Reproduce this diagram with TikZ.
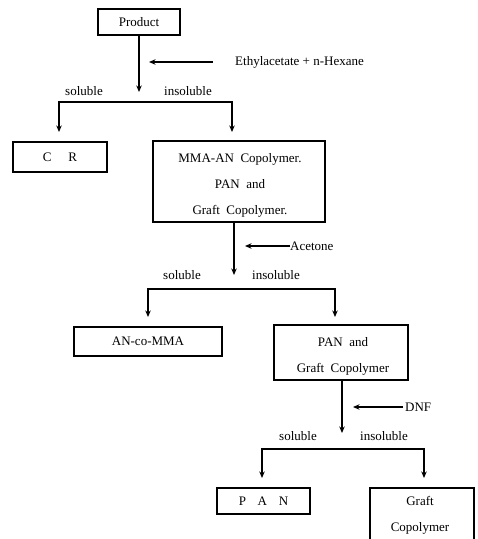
\documentclass[tikz,border=0pt]{standalone}
\usepackage{fontspec}
\setmainfont{Liberation Serif}
\usetikzlibrary{arrows.meta}
\begin{document}
\begin{tikzpicture}[x=1pt,y=-1pt,
  box/.style={draw,line width=1.3pt,inner sep=0pt,align=center,font=\fontsize{13}{26}\selectfont},
  txt/.style={inner sep=0pt,align=center,font=\fontsize{13}{26}\selectfont},
  lbl/.style={inner sep=0pt,font=\fontsize{13}{15}\selectfont},
  arr/.style={line width=1.3pt,-{Stealth[length=6.5pt,width=5.5pt]}},
  barr/.style={line width=1.3pt,line join=miter,{Stealth[length=6.5pt,width=5.5pt]}-{Stealth[length=6.5pt,width=5.5pt]}}]
\useasboundingbox (0,0) rectangle (478,539);
\clip (0,0) rectangle (478,539);

% stage 1
\node[box,minimum width=82pt,minimum height=26pt] (prod) at (139,22) {Product};
\coordinate (e1) at (139,92);
\draw[arr] (prod.south) -- (e1);
\node[lbl,anchor=west] (sol1) at (235,62) {Ethylacetate + n-Hexane};
\coordinate (t1) at (213,62);
\coordinate (h1) at (149,62);
\draw[arr] (t1) -- (h1);
\node[lbl] (s1) at (84,91) {soluble};
\node[lbl] (i1) at (188,91) {insoluble};
\coordinate (b1l) at (59,102);
\coordinate (b1r) at (232,102);
\coordinate (a1l) at (59,132);
\coordinate (a1r) at (232,132);
\draw[barr] (a1l) -- (b1l) -- (b1r) -- (a1r);

\node[box,minimum width=94pt,minimum height=30pt] (cr) at (60,157) {C\hspace{1.3em}R};
\node[box,minimum width=172pt,minimum height=81pt] (mma) at (239,181.5) {};
\node[txt] (mmat) at (240,185.5) {MMA-AN~~Copolymer.\\PAN~~and\\Graft~~Copolymer.};

% stage 2
\coordinate (e2) at (234,275);
\draw[arr] (mma.south -| e2) -- (e2);
\node[lbl,anchor=west] (ac) at (290,246) {Acetone};
\coordinate (h2) at (245,246);
\draw[arr] (ac.west) -- (h2);
\node[lbl] (s2) at (182,275) {soluble};
\node[lbl] (i2) at (276,275) {insoluble};
\coordinate (b2l) at (148,289);
\coordinate (b2r) at (335,289);
\coordinate (a2l) at (148,317);
\coordinate (a2r) at (335,317);
\draw[barr] (a2l) -- (b2l) -- (b2r) -- (a2r);

\node[box,minimum width=148pt,minimum height=29pt] (anco) at (148,341.5) {AN-co-MMA};
\node[box,minimum width=134pt,minimum height=55pt] (pg) at (341,352.5) {};
\node[txt] (pgt) at (343,356.5) {PAN~~and\\Graft~~Copolymer};

% stage 3
\coordinate (e3) at (342,433);
\draw[arr] (pg.south -| e3) -- (e3);
\node[lbl,anchor=west] (dnf) at (405,407) {DNF};
\coordinate (h3) at (353,407);
\draw[arr] ([xshift=-2pt]dnf.west) -- (h3);
\node[lbl] (s3) at (298,436) {soluble};
\node[lbl] (i3) at (384,436) {insoluble};
\coordinate (b3l) at (262,449);
\coordinate (b3r) at (424,449);
\coordinate (a3l) at (262,478);
\coordinate (a3r) at (424,478);
\draw[barr] (a3l) -- (b3l) -- (b3r) -- (a3r);

\node[box,minimum width=93pt,minimum height=26pt] (pan) at (263.5,501) {P\hspace{0.9em}A\hspace{0.9em}N};
\node[box,minimum width=104pt,minimum height=72pt] (gc) at (422,524) {};
\node[txt] (gct) at (420,515.5) {Graft\\Copolymer};
\end{tikzpicture}
\end{document}
